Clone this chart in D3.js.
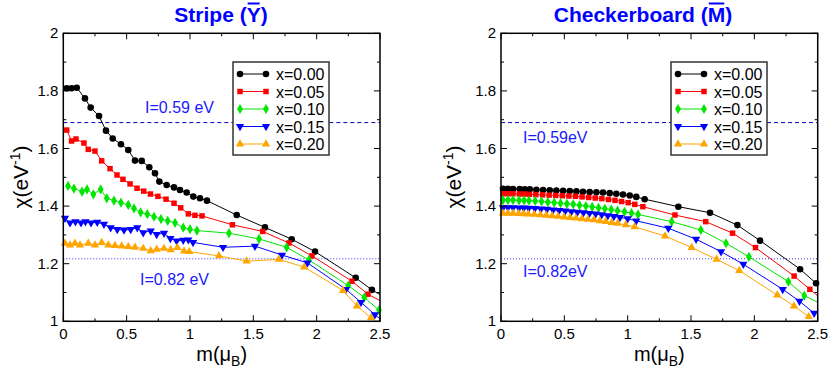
<!DOCTYPE html>
<html>
<head>
<meta charset="utf-8">
<script src="https://cdn.jsdelivr.net/npm/d3@7"></script>
<style>
  body { margin: 0; background: #fff; }
  text { font-family: "Liberation Sans", Arial, sans-serif; }
</style>
</head>
<body>
<svg id="chart" width="830" height="372"></svg>
<script>
// series labels and styles
const seriesNames = ["x=0.00", "x=0.05", "x=0.10", "x=0.15", "x=0.20"];
const seriesColors = ["#000000", "#ff0000", "#00e600", "#0000ff", "#ffa500"];
const xTicks = [0, 0.5, 1, 1.5, 2, 2.5];
const yTicks = [1, 1.2, 1.4, 1.6, 1.8, 2];
const hLineDashed = 1.69; // I=0.59 eV
const hLineDotted = 1.217; // I=0.82 eV

// stripe panel, [m, chi] pairs
const stripe00 = [[0.027,1.809],[0.066,1.809],[0.106,1.811],[0.171,1.774],[0.216,1.742],[0.282,1.713],[0.337,1.662],
  [0.390,1.635],[0.455,1.615],[0.513,1.595],[0.566,1.558],[0.619,1.557],[0.679,1.535],[0.724,1.514],[0.758,1.485],
  [0.816,1.473],[0.874,1.465],[0.921,1.456],[0.974,1.447],[1.026,1.433],[1.079,1.427],[1.134,1.419],[1.369,1.369],
  [1.592,1.326],[1.803,1.285],[1.987,1.242],[2.308,1.151],[2.436,1.109],[2.55,1.08]];
const stripe05 = [[0.027,1.664],[0.065,1.626],[0.100,1.633],[0.163,1.619],[0.197,1.597],[0.250,1.591],[0.303,1.557],
  [0.369,1.530],[0.424,1.508],[0.471,1.493],[0.527,1.477],[0.582,1.462],[0.635,1.452],[0.688,1.442],[0.747,1.434],
  [0.811,1.424],[0.874,1.410],[0.927,1.394],[0.987,1.373],[1.039,1.368],[1.095,1.366],[1.335,1.335],[1.574,1.312],
  [1.781,1.272],[1.963,1.227],[2.279,1.139],[2.405,1.094],[2.55,1.06]];
const stripe10 = [[0.037,1.470],[0.084,1.461],[0.148,1.450],[0.187,1.458],[0.237,1.441],[0.295,1.458],[0.343,1.427],
  [0.400,1.419],[0.455,1.412],[0.513,1.404],[0.558,1.392],[0.611,1.378],[0.663,1.372],[0.716,1.363],[0.771,1.355],
  [0.824,1.349],[0.882,1.342],[0.947,1.325],[1.000,1.320],[1.055,1.315],[1.308,1.306],[1.545,1.286],[1.763,1.257],
  [1.939,1.213],[2.249,1.124],[2.376,1.083],[2.492,1.039]];
const stripe15 = [[0.013,1.358],[0.053,1.342],[0.096,1.346],[0.140,1.342],[0.175,1.346],[0.219,1.342],[0.268,1.344],
  [0.321,1.337],[0.374,1.325],[0.426,1.319],[0.479,1.317],[0.532,1.319],[0.584,1.325],[0.631,1.308],[0.690,1.314],
  [0.737,1.302],[0.795,1.306],[0.845,1.288],[0.895,1.279],[0.947,1.282],[0.987,1.283],[1.024,1.274],[1.261,1.257],
  [1.513,1.261],[1.726,1.230],[1.927,1.203],[2.231,1.111],[2.350,1.066],[2.460,1.023],[2.55,0.99]];
const stripe20 = [[0.013,1.271],[0.053,1.265],[0.092,1.271],[0.132,1.265],[0.197,1.271],[0.250,1.265],[0.303,1.273],
  [0.355,1.265],[0.408,1.263],[0.461,1.261],[0.513,1.259],[0.566,1.257],[0.631,1.253],[0.690,1.245],[0.737,1.250],
  [0.795,1.253],[0.848,1.248],[0.900,1.256],[0.953,1.244],[0.994,1.242],[1.229,1.227],[1.447,1.209],[1.702,1.215],
  [1.902,1.188],[2.208,1.107],[2.318,1.053],[2.429,1.012]];

// checkerboard panel
const checker00 = [[0.016,1.460],[0.055,1.460],[0.095,1.459],[0.148,1.459],[0.187,1.458],[0.227,1.458],[0.279,1.457],
  [0.332,1.456],[0.385,1.455],[0.437,1.454],[0.490,1.453],[0.543,1.452],[0.595,1.451],[0.647,1.450],[0.700,1.449],
  [0.753,1.448],[0.805,1.447],[0.858,1.445],[0.910,1.443],[0.963,1.440],[1.016,1.437],[1.068,1.432],[1.134,1.424],
  [1.400,1.398],[1.650,1.377],[1.866,1.334],[2.045,1.280],[2.361,1.181],[2.487,1.132]];
const checker05 = [[0.016,1.443],[0.055,1.443],[0.095,1.443],[0.145,1.442],[0.185,1.442],[0.225,1.441],[0.275,1.440],
  [0.328,1.439],[0.380,1.438],[0.432,1.437],[0.484,1.436],[0.536,1.435],[0.588,1.434],[0.640,1.432],[0.692,1.430],
  [0.744,1.428],[0.796,1.426],[0.848,1.423],[0.900,1.420],[0.952,1.416],[1.004,1.412],[1.056,1.406],[1.120,1.398],
  [1.373,1.369],[1.616,1.346],[1.828,1.306],[2.009,1.256],[2.314,1.157],[2.438,1.111],[2.55,1.07]];
const checker10 = [[0.016,1.421],[0.055,1.421],[0.095,1.421],[0.143,1.420],[0.182,1.420],[0.221,1.419],[0.270,1.418],
  [0.320,1.416],[0.370,1.414],[0.420,1.412],[0.470,1.410],[0.520,1.408],[0.570,1.406],[0.620,1.403],[0.670,1.400],
  [0.720,1.397],[0.770,1.394],[0.820,1.391],[0.870,1.388],[0.920,1.384],[0.975,1.380],[1.030,1.376],[1.082,1.371],
  [1.347,1.346],[1.578,1.317],[1.776,1.271],[1.957,1.224],[2.268,1.138],[2.394,1.089],[2.52,1.062]];
const checker15 = [[0.016,1.395],[0.055,1.395],[0.095,1.395],[0.142,1.394],[0.180,1.394],[0.219,1.393],[0.267,1.392],
  [0.315,1.390],[0.363,1.389],[0.411,1.387],[0.459,1.385],[0.507,1.383],[0.555,1.381],[0.603,1.379],[0.651,1.377],
  [0.699,1.375],[0.747,1.373],[0.795,1.370],[0.843,1.367],[0.891,1.364],[0.939,1.361],[1.000,1.356],[1.068,1.349],
  [1.321,1.323],[1.540,1.285],[1.737,1.242],[1.913,1.198],[2.224,1.111],[2.356,1.070],[2.472,1.028]];
const checker20 = [[0.016,1.375],[0.055,1.375],[0.095,1.375],[0.140,1.374],[0.178,1.373],[0.216,1.372],[0.263,1.371],
  [0.310,1.370],[0.357,1.368],[0.404,1.366],[0.451,1.364],[0.498,1.362],[0.545,1.360],[0.592,1.358],[0.639,1.356],
  [0.686,1.354],[0.733,1.352],[0.780,1.349],[0.827,1.346],[0.874,1.343],[0.921,1.340],[0.985,1.335],[1.055,1.328],
  [1.295,1.296],[1.505,1.256],[1.702,1.215],[1.881,1.176],[2.181,1.091],[2.313,1.053],[2.429,1.016]];

const panels = [
  { id: "stripe", title: ["Stripe (", "Y", ")"], tx: 221, x0: 63.3, x1: 380, ylabX: 28,
    series: [stripe00, stripe05, stripe10, stripe15, stripe20],
    labels: [{ t: "I=0.59 eV", x: 145, y: 113 }, { t: "I=0.82 eV", x: 140, y: 285 }],
    legend: { x: 233, y: 62 } },
  { id: "checker", title: ["Checkerboard (", "M", ")"], tx: 643, x0: 501, x1: 817.7, ylabX: 461,
    series: [checker00, checker05, checker10, checker15, checker20],
    labels: [{ t: "I=0.59eV", x: 523, y: 143 }, { t: "I=0.82eV", x: 523, y: 277 }],
    legend: { x: 671, y: 62 } }
];

const yTop = 33.3, yBot = 321.3;
const svg = d3.select("#chart");

const symbols = [d3.symbolCircle, d3.symbolSquare, d3.symbolDiamond, d3.symbolTriangle, d3.symbolTriangle];
const symSizes = [34, 30, 30, 30, 30];
function marker(i) {
  return d3.symbol().type(symbols[i]).size(symSizes[i])();
}
function markerTransform(i, x, y) {
  // series 3 uses a downward triangle
  return i === 3 ? `translate(${x},${y}) rotate(180)` : `translate(${x},${y})`;
}

panels.forEach((p, pi) => {
  const x = d3.scaleLinear().domain([0, 2.5]).range([p.x0, p.x1]);
  const y = d3.scaleLinear().domain([1, 2]).range([yBot, yTop]);
  const g = svg.append("g");

  svg.append("clipPath").attr("id", "clip" + pi)
    .append("rect").attr("x", p.x0).attr("y", yTop)
    .attr("width", p.x1 - p.x0).attr("height", yBot - yTop);

  // reference lines
  g.append("line").attr("x1", p.x0).attr("x2", p.x1)
    .attr("y1", y(hLineDashed)).attr("y2", y(hLineDashed))
    .attr("stroke", "#0000c8").attr("stroke-width", 1).attr("stroke-dasharray", "4,3");
  g.append("line").attr("x1", p.x0).attr("x2", p.x1)
    .attr("y1", y(hLineDotted)).attr("y2", y(hLineDotted))
    .attr("stroke", "#3030ff").attr("stroke-width", 1).attr("stroke-dasharray", "1,2");

  p.labels.forEach(l => {
    g.append("text").attr("x", l.x).attr("y", l.y).attr("fill", "#1a1aff")
      .attr("font-size", 16).text(l.t);
  });

  // data lines and markers
  const line = d3.line().x(d => x(d[0])).y(d => y(d[1]));
  p.series.forEach((s, i) => {
    g.append("path").datum(s).attr("d", line).attr("fill", "none")
      .attr("stroke", seriesColors[i]).attr("stroke-width", 1)
      .attr("clip-path", `url(#clip${pi})`);
    g.selectAll(null).data(s.filter(d => d[0] <= 2.5 && d[1] >= 1)).enter()
      .append("path").attr("d", marker(i))
      .attr("transform", d => markerTransform(i, x(d[0]), y(d[1])))
      .attr("fill", seriesColors[i]);
  });

  // frame and ticks
  g.append("rect").attr("x", p.x0).attr("y", yTop)
    .attr("width", p.x1 - p.x0).attr("height", yBot - yTop)
    .attr("fill", "none").attr("stroke", "#000").attr("stroke-width", 1.5);

  const xt = d3.range(0, 2.51, 0.25);
  xt.forEach((v, k) => {
    const len = k % 2 === 0 ? 6 : 3;
    g.append("line").attr("x1", x(v)).attr("x2", x(v)).attr("y1", yBot).attr("y2", yBot - len).attr("stroke", "#000");
    g.append("line").attr("x1", x(v)).attr("x2", x(v)).attr("y1", yTop).attr("y2", yTop + len).attr("stroke", "#000");
  });
  const yt = d3.range(1, 2.01, 0.1);
  yt.forEach((v, k) => {
    const len = k % 2 === 0 ? 6 : 3;
    g.append("line").attr("x1", p.x0).attr("x2", p.x0 + len).attr("y1", y(v)).attr("y2", y(v)).attr("stroke", "#000");
    g.append("line").attr("x1", p.x1).attr("x2", p.x1 - len).attr("y1", y(v)).attr("y2", y(v)).attr("stroke", "#000");
  });

  g.selectAll(null).data(xTicks).enter().append("text")
    .attr("x", d => x(d)).attr("y", yBot + 18).attr("text-anchor", "middle")
    .attr("font-size", 15).text(d => d);
  g.selectAll(null).data(yTicks).enter().append("text")
    .attr("x", p.x0 - 5).attr("y", d => y(d) + 5).attr("text-anchor", "end")
    .attr("font-size", 15).text(d => d);

  // axis titles
  const xl = g.append("text").attr("x", (p.x0 + p.x1) / 2).attr("y", 361)
    .attr("text-anchor", "middle").attr("font-size", 20);
  xl.append("tspan").text("m(\u03bc");
  xl.append("tspan").attr("font-size", 14).attr("dy", 5).text("B");
  xl.append("tspan").attr("dy", -5).text(")");

  const yl = g.append("text").attr("transform", `translate(${p.ylabX},177) rotate(-90)`)
    .attr("text-anchor", "middle").attr("font-size", 21);
  yl.append("tspan").text("\u03c7(eV");
  yl.append("tspan").attr("font-size", 14).attr("dy", -8).text("-1");
  yl.append("tspan").attr("dy", 8).text(")");

  // panel title with an overbar on the symmetry point
  const tt = g.append("text").attr("x", p.tx).attr("y", 22).attr("text-anchor", "middle")
    .attr("font-size", 21).attr("font-weight", "bold").attr("fill", "#0000ff");
  tt.append("tspan").text(p.title[0]);
  tt.append("tspan").text(p.title[1]);
  tt.append("tspan").text(p.title[2]);
  const ext = tt.node().getExtentOfChar(p.title[0].length);
  g.append("line").attr("x1", ext.x + 1).attr("x2", ext.x + ext.width - 1)
    .attr("y1", 3.5).attr("y2", 3.5).attr("stroke", "#0000ff").attr("stroke-width", 2);

  // legend
  const lg = g.append("g").attr("transform", `translate(${p.legend.x},${p.legend.y})`);
  lg.append("rect").attr("width", 96).attr("height", 93).attr("fill", "#fff")
    .attr("stroke", "#333").attr("stroke-width", 1.5);
  seriesNames.forEach((n, i) => {
    const ry = 12 + i * 17.5;
    lg.append("line").attr("x1", 7).attr("x2", 33).attr("y1", ry).attr("y2", ry)
      .attr("stroke", seriesColors[i]).attr("stroke-width", 1);
    [7, 33].forEach(mx => {
      lg.append("path").attr("d", marker(i)).attr("transform", markerTransform(i, mx, ry))
        .attr("fill", seriesColors[i]);
    });
    lg.append("text").attr("x", 43).attr("y", ry + 6).attr("font-size", 16).text(n);
  });
});
</script>
</body>
</html>
